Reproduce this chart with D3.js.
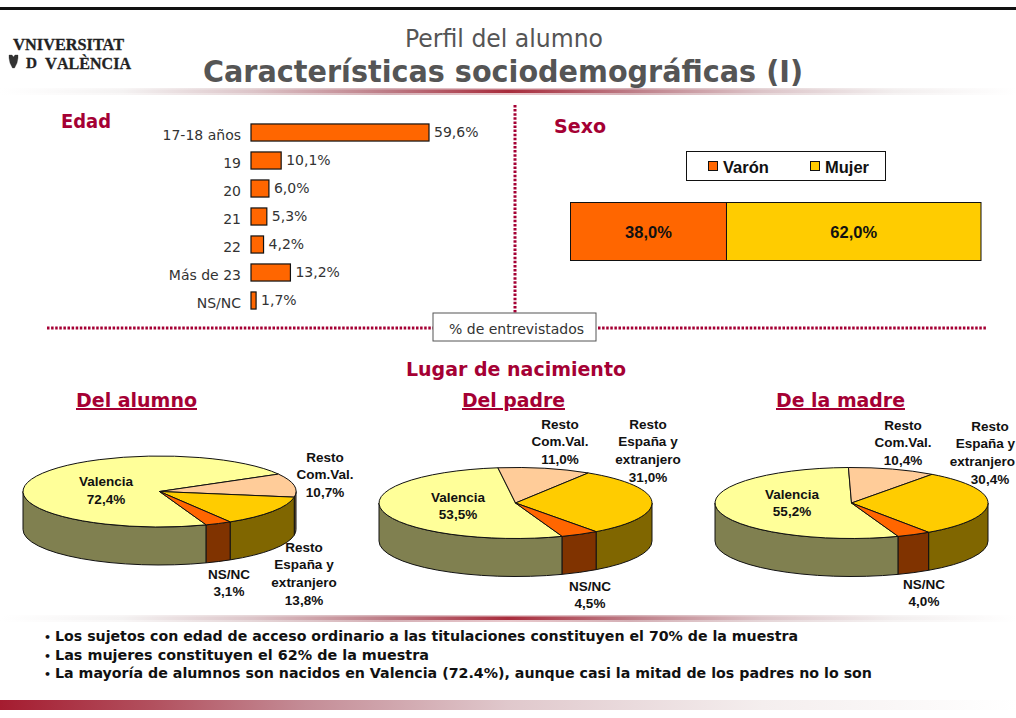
<!DOCTYPE html>
<html>
<head>
<meta charset="utf-8">
<title>Perfil del alumno</title>
<script src="https://cdn.jsdelivr.net/npm/d3@7"></script>
<style>
    html, body { margin: 0; padding: 0; background: #fff; overflow: hidden; }
    svg { display: block; }
    .cat { font-family: "DejaVu Sans", sans-serif; font-size: 14px; fill: #333; }
    .pielab { font-family: "Liberation Sans", Arial, sans-serif; font-size: 13.5px; font-weight: bold; fill: #111; text-anchor: middle; }
    .head { font-family: "DejaVu Sans", sans-serif; font-weight: bold; fill: #a50034; }
    .note { font-family: "DejaVu Sans", sans-serif; font-weight: bold; font-size: 13.5px; fill: #111; }
</style>
</head>
<body>
<div id="chart-area"></div>
<script>
// Edad
const ageCats = ['17-18 años', '19', '20', '21', '22', 'Más de 23', 'NS/NC'];
const ageVals = [59.6, 10.1, 6.0, 5.3, 4.2, 13.2, 1.7];

// Sexo
const sexCats = ['Varón', 'Mujer'];
const sexVals = [38.0, 62.0];

// Lugar de nacimiento
const placeCats = ['Valencia', 'Resto Com.Val.', 'Resto España y extranjero', 'NS/NC'];
const alumnoVals = [72.4, 10.7, 13.8, 3.1];
const padreVals = [53.5, 11.0, 31.0, 4.5];
const madreVals = [55.2, 10.4, 30.4, 4.0];

const notes = [
    'Los sujetos con edad de acceso ordinario a las titulaciones constituyen el 70% de la muestra',
    'Las mujeres constituyen el 62% de la muestra',
    'La mayoría de alumnos son nacidos en Valencia (72.4%), aunque casi la mitad de los padres no lo son'
];

const red = '#a50034';
const fmt = (v) => v.toFixed(1).replace('.', ',') + '%';

const svg = d3.select('#chart-area')
    .append('svg')
        .attr('width', 1016)
        .attr('height', 718);

// Gradients for the slide bands
const defs = svg.append('defs');
const addGrad = (id, stops) => {
    const grad = defs.append('linearGradient').attr('id', id);
    stops.forEach((s) => {
        grad.append('stop').attr('offset', s[0] + '%').attr('stop-color', s[1]);
    });
};
addGrad('band', [[0, '#ffffff'], [12, '#f4f2f2'], [25, '#dcc4c8'], [38, '#bd7c86'], [50, '#a82c3c'],
    [62, '#bd7c86'], [75, '#dcc4c8'], [88, '#f2eeee'], [100, '#ffffff']]);
addGrad('bandEdge', [[0, '#ffffff'], [12, '#f8f6f6'], [25, '#e6d6d8'], [38, '#d5b0b6'], [50, '#e8c8cc'],
    [62, '#d5b0b6'], [75, '#e6d6d8'], [88, '#f6f3f3'], [100, '#ffffff']]);
addGrad('foot', [[0, '#a51c30'], [15, '#b2505e'], [30, '#c48c96'], [50, '#e0c8cc'], [75, '#f4eeee'], [100, '#ffffff']]);

// Slide frame
svg.append('rect').attr('x', 0).attr('y', 7).attr('width', 1016).attr('height', 3).attr('fill', '#111');
[88, 615].forEach((y) => {
    svg.append('rect').attr('x', 0).attr('y', y).attr('width', 1016).attr('height', 7)
        .attr('fill', 'url(#bandEdge)');
    svg.append('rect').attr('x', 0).attr('y', y + 1.5).attr('width', 1016).attr('height', 3.5)
        .attr('fill', 'url(#band)');
});
svg.append('rect').attr('x', 0).attr('y', 700).attr('width', 1016).attr('height', 10).attr('fill', 'url(#foot)');

// Logo
const logo = svg.append('g').attr('font-family', '"Liberation Serif", serif').attr('font-weight', 'bold')
    .attr('fill', '#222').attr('stroke', '#222').attr('stroke-width', 0.3);
const logoLine1 = logo.append('text').attr('x', 13).attr('y', 49.5).attr('font-size', 17)
    .attr('textLength', 111).attr('lengthAdjust', 'spacingAndGlyphs');
logoLine1.append('tspan').attr('font-size', 17.5).text('V');
logoLine1.append('tspan').text('NIVERSITAT');
logo.append('path').attr('d', 'M9 55h3l1.500 2 1.500-2h3v3l-1 5-2.500 5h-2l-2.500-5-1-5z').attr('fill', '#333');
logo.append('text').attr('x', 26).attr('y', 68).attr('font-size', 15)
    .attr('textLength', 11).attr('lengthAdjust', 'spacingAndGlyphs').text('D');
const logoLine2 = logo.append('text').attr('x', 45).attr('y', 69).attr('font-size', 17)
    .attr('textLength', 86).attr('lengthAdjust', 'spacingAndGlyphs');
logoLine2.append('tspan').attr('font-size', 17.5).text('V');
logoLine2.append('tspan').text('ALÈNCIA');

// Title
svg.append('text').attr('x', 504).attr('y', 47).attr('text-anchor', 'middle')
    .attr('font-family', '"DejaVu Sans", sans-serif').attr('font-size', 24).attr('fill', '#555')
    .attr('textLength', 198).attr('lengthAdjust', 'spacingAndGlyphs').text('Perfil del alumno');
svg.append('text').attr('x', 503).attr('y', 82).attr('text-anchor', 'middle')
    .attr('font-family', '"DejaVu Sans", sans-serif').attr('font-size', 30).attr('font-weight', 'bold').attr('fill', '#555')
    .attr('textLength', 600).attr('lengthAdjust', 'spacingAndGlyphs').text('Características sociodemográficas (I)');

// Dotted separators
const dots = svg.append('g').attr('stroke', red).attr('stroke-width', 3).attr('stroke-dasharray', '2.5 1.6');
dots.append('line').attr('x1', 47).attr('x2', 433).attr('y1', 328).attr('y2', 328);
dots.append('line').attr('x1', 598).attr('x2', 986).attr('y1', 328).attr('y2', 328);
dots.append('line').attr('x1', 515).attr('x2', 515).attr('y1', 105).attr('y2', 313);

// "% de entrevistados" box
svg.append('rect').attr('x', 433).attr('y', 313).attr('width', 163).attr('height', 28)
    .attr('fill', '#fff').attr('stroke', '#555');
svg.append('text').attr('class', 'cat').attr('x', 449).attr('y', 334).text('% de entrevistados');

// Section headings
const heading = (txt, x, y, size, len, under) => svg.append('text').attr('class', 'head')
    .attr('x', x).attr('y', y).attr('font-size', size)
    .attr('textLength', len).attr('lengthAdjust', 'spacingAndGlyphs')
    .attr('text-decoration', under ? 'underline' : null).text(txt);
heading('Edad', 61, 128, 20, 50, false);
heading('Sexo', 554, 133, 20, 52, false);
heading('Lugar de nacimiento', 406, 376, 19, 220, false);
heading('Del alumno', 76, 407, 20, 121, true);
heading('Del padre', 462, 407, 20, 103, true);
heading('De la madre', 776, 407, 20, 129, true);

// Edad bars
const xAge = d3.scaleLinear().domain([0, 59.6]).range([251, 429]);
const yAge = d3.scaleBand().domain(ageCats).range([118.5, 314.5]).paddingInner(0.39).paddingOuter(0.195);

const ageRows = ageCats.map((c, i) => ({ cat: c, val: ageVals[i] }));
svg.append('g').selectAll('rect').data(ageRows).enter().append('rect')
    .attr('x', xAge(0))
    .attr('y', (d) => yAge(d.cat))
    .attr('width', (d) => xAge(d.val) - xAge(0))
    .attr('height', yAge.bandwidth())
    .attr('fill', '#ff6600')
    .attr('stroke', '#111')
    .attr('stroke-width', 1.2);

svg.append('g').selectAll('text').data(ageRows).enter().append('text')
    .attr('class', 'cat')
    .attr('x', 241)
    .attr('y', (d) => yAge(d.cat) + yAge.bandwidth() / 2 + 7.5)
    .attr('text-anchor', 'end')
    .text((d) => d.cat);

svg.append('g').selectAll('text').data(ageRows).enter().append('text')
    .attr('class', 'cat')
    .attr('x', (d) => xAge(d.val) + 5)
    .attr('y', (d) => yAge(d.cat) + yAge.bandwidth() / 2 + 4.5)
    .text((d) => fmt(d.val));

// Sexo stacked bar
const xSex = d3.scaleLinear().domain([0, 100]).range([570.5, 981]);
const sexColors = ['#ff6600', '#ffcc00'];
const sexStart = sexVals.map((v, i) => d3.sum(sexVals.slice(0, i)));

svg.append('g').selectAll('rect').data(sexVals).enter().append('rect')
    .attr('x', (d, i) => xSex(sexStart[i]))
    .attr('y', 202.5)
    .attr('width', (d) => xSex(d) - xSex(0))
    .attr('height', 58)
    .attr('fill', (d, i) => sexColors[i])
    .attr('stroke', '#111');

svg.append('g').selectAll('text').data(sexVals).enter().append('text')
    .attr('x', (d, i) => xSex(sexStart[i] + d / 2))
    .attr('y', 238)
    .attr('text-anchor', 'middle')
    .attr('font-family', '"Liberation Sans", Arial, sans-serif')
    .attr('font-size', 16.5)
    .attr('font-weight', 'bold')
    .attr('fill', '#111')
    .text(fmt);

// Sexo legend
svg.append('rect').attr('x', 686.5).attr('y', 151.5).attr('width', 199).attr('height', 29)
    .attr('fill', '#fff').attr('stroke', '#111');
const legendX = [708.5, 810.5];
const legend = svg.append('g').selectAll('g').data(sexCats).enter().append('g')
    .attr('transform', (d, i) => 'translate(' + legendX[i] + ', 161.5)');
legend.append('rect').attr('width', 9).attr('height', 9)
    .attr('fill', (d, i) => sexColors[i]).attr('stroke', '#111');
legend.append('text').attr('x', 14.5).attr('y', 11)
    .attr('font-family', '"Liberation Sans", Arial, sans-serif')
    .attr('font-size', 16.5).attr('font-weight', 'bold').attr('fill', '#111')
    .text((d) => d);

// Pies
const sliceTop = ['#ffff99', '#ffcc99', '#ffcc00', '#ff6600'];
const sliceSide = ['#808050', '#80664d', '#806600', '#803300'];
const pie = d3.pie().sort(null)
    .startAngle(160 * Math.PI / 180)
    .endAngle(520 * Math.PI / 180);

const rx = 136.5, ry = 35.5, depth = 38;

const drawPie = (vals, cx, cy) => {
    const slices = pie(vals);
    const g = svg.append('g').attr('transform', 'translate(' + cx + ', ' + cy + ')');
    const pt = (a, dy) => [rx * Math.sin(a), -ry * Math.cos(a) + dy];

    // Side wall: only the part of a slice facing the viewer
    const wall = (a0, a1) => {
        const p0 = pt(a0, 0), p1 = pt(a1, 0), q0 = pt(a0, depth), q1 = pt(a1, depth);
        return 'M' + p0 + 'A' + rx + ',' + ry + ' 0 0 1 ' + p1 + 'L' + q1 +
            'A' + rx + ',' + ry + ' 0 0 0 ' + q0 + 'Z';
    };
    const front = [[Math.PI / 2, Math.PI * 3 / 2], [Math.PI * 5 / 2, Math.PI * 7 / 2]];
    slices.forEach((s, i) => {
        front.forEach((f) => {
            const a0 = Math.max(s.startAngle, f[0]);
            const a1 = Math.min(s.endAngle, f[1]);
            if (a1 > a0) {
                g.append('path').attr('d', wall(a0, a1))
                    .attr('fill', sliceSide[i])
                    .attr('stroke', '#111').attr('stroke-width', 1);
            }
        });
    });

    // Top face
    const arc = d3.arc().innerRadius(0).outerRadius(rx);
    g.append('g').attr('transform', 'scale(1, ' + (ry / rx) + ')')
        .selectAll('path').data(slices).enter().append('path')
            .attr('d', arc)
            .attr('fill', (d, i) => sliceTop[i])
            .attr('stroke', '#111')
            .attr('stroke-width', 1)
            .attr('vector-effect', 'non-scaling-stroke');
};

drawPie(alumnoVals, 159.5, 491.5);
drawPie(padreVals, 515.5, 503);
drawPie(madreVals, 851.5, 503);

// Pie labels, one entry per slice: lines are split by hand as in the slide
const pieLabel = (cat, val, x, y) => {
    const lines = cat === placeCats[1] ? ['Resto', 'Com.Val.'] :
        cat === placeCats[2] ? ['Resto', 'España y', 'extranjero'] : [cat];
    lines.concat(fmt(val)).forEach((l, i) => {
        const t = svg.append('text').attr('class', 'pielab')
            .attr('x', x).attr('y', y + i * 17.7).text(l);
        // keep wide lines inside the page
        const w = t.node().getComputedTextLength();
        if (x + w / 2 > 1015) t.attr('x', 1015 - w / 2);
    });
};
[
    [alumnoVals, [[106, 486], [325, 461.500], [304, 551.500], [229, 578.500]]],
    [padreVals, [[458, 501.500], [560, 428.500], [648, 428.500], [590, 590.500]]],
    [madreVals, [[792, 498.500], [903, 429.500], [990, 430.500], [924, 588.500]]]
].forEach((row) => {
    placeCats.forEach((c, i) => pieLabel(c, row[0][i], row[1][i][0], row[1][i][1]));
});

// Closing notes
const noteRows = svg.append('g').selectAll('g').data(notes).enter().append('g')
    .attr('transform', (d, i) => 'translate(44, ' + (641 + i * 18.7) + ')');
noteRows.append('text').attr('class', 'note').style('font-size', '11px').text('•');
noteRows.append('text')
    .attr('class', 'note')
    .attr('x', 11)
    .attr('textLength', (d, i) => [743, 374, 817][i])
    .attr('lengthAdjust', 'spacingAndGlyphs')
    .text((d) => d);
</script>
</body>
</html>
